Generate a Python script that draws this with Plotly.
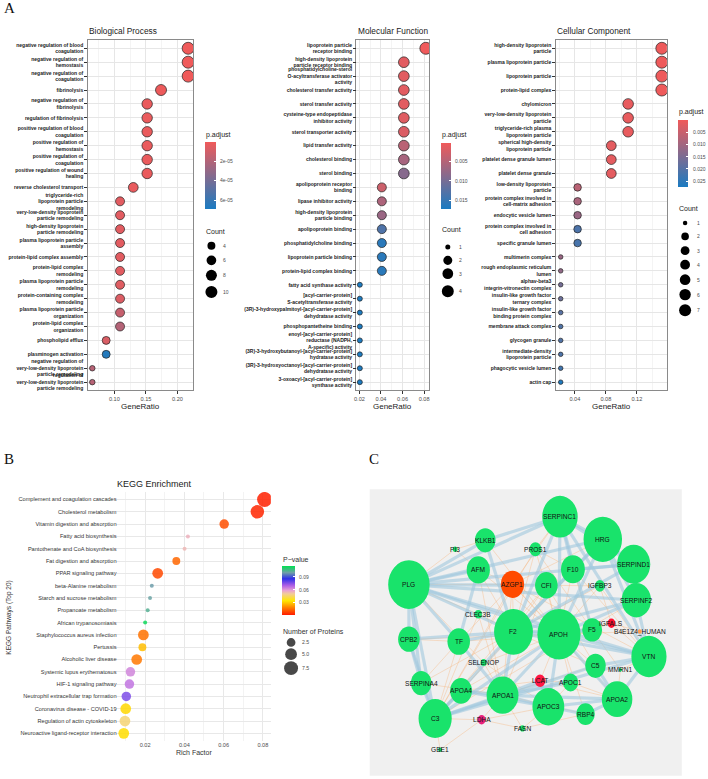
import plotly.graph_objects as go

W, H = 708, 779
SANS = "Liberation Sans, Arial, sans-serif"
SERIF = "Liberation Serif, Times New Roman, serif"

# ---------------- GO: Biological Process ----------------
bp_terms = [
    "negative regulation of blood<br>coagulation",
    "negative regulation of<br>hemostasis",
    "negative regulation of<br>coagulation",
    "fibrinolysis",
    "negative regulation of<br>fibrinolysis",
    "regulation of fibrinolysis",
    "positive regulation of blood<br>coagulation",
    "positive regulation of<br>hemostasis",
    "positive regulation of<br>coagulation",
    "positive regulation of wound<br>healing",
    "reverse cholesterol transport",
    "triglyceride-rich<br>lipoprotein particle<br>remodeling",
    "very-low-density lipoprotein<br>particle remodeling",
    "high-density lipoprotein<br>particle remodeling",
    "plasma lipoprotein particle<br>assembly",
    "protein-lipid complex assembly",
    "protein-lipid complex<br>remodeling",
    "plasma lipoprotein particle<br>remodeling",
    "protein-containing complex<br>remodeling",
    "plasma lipoprotein particle<br>organization",
    "protein-lipid complex<br>organization",
    "phospholipid efflux",
    "plasminogen activation",
    "negative regulation of<br>very-low-density lipoprotein<br>particle remodeling",
    "regulation of<br>very-low-density lipoprotein<br>particle remodeling",
]
bp_ratio = [0.217, 0.217, 0.217, 0.174, 0.152, 0.152, 0.152, 0.152, 0.152, 0.152,
            0.130, 0.109, 0.109, 0.109, 0.109, 0.109, 0.109, 0.109, 0.109, 0.109,
            0.109, 0.087, 0.087, 0.065, 0.065]
bp_count = [10, 10, 10, 8, 7, 7, 7, 7, 7, 7, 6, 5, 5, 5, 5, 5, 5, 5, 5, 5, 5, 4, 4, 3, 3]
bp_padj = [9e-7, 9e-7, 9e-7, 1.5e-6, 2.5e-6, 2.5e-6, 2.5e-6, 2.5e-6, 2.5e-6, 2.5e-6,
           3e-6, 5e-6, 5e-6, 5e-6, 5e-6, 5e-6, 5e-6, 6e-6, 7e-6, 1.4e-5,
           2.0e-5, 8e-6, 6.6e-5, 1.9e-5, 1.9e-5]

# ---------------- GO: Molecular Function ----------------
mf_terms = [
    "lipoprotein particle<br>receptor binding",
    "high-density lipoprotein<br>particle receptor binding",
    "phosphatidylcholine-sterol<br>O-acyltransferase activator<br>activity",
    "cholesterol transfer activity",
    "sterol transfer activity",
    "cysteine-type endopeptidase<br>inhibitor activity",
    "sterol transporter activity",
    "lipid transfer activity",
    "cholesterol binding",
    "sterol binding",
    "apolipoprotein receptor<br>binding",
    "lipase inhibitor activity",
    "high-density lipoprotein<br>particle binding",
    "apolipoprotein binding",
    "phosphatidylcholine binding",
    "lipoprotein particle binding",
    "protein-lipid complex binding",
    "fatty acid synthase activity",
    "[acyl-carrier-protein]<br>S-acetyltransferase activity",
    "(3R)-3-hydroxypalmitoyl-[acyl-carrier-protein]<br>dehydratase activity",
    "phosphopantetheine binding",
    "enoyl-[acyl-carrier-protein]<br>reductase (NADPH,<br>A-specific) activity",
    "(3R)-3-hydroxybutanoyl-[acyl-carrier-protein]<br>hydratase activity",
    "(3R)-3-hydroxyoctanoyl-[acyl-carrier-protein]<br>dehydratase activity",
    "3-oxoacyl-[acyl-carrier-protein]<br>synthase activity",
]
mf_ratio = [0.0816] + [0.0612] * 9 + [0.0408] * 7 + [0.0204] * 8
mf_count = [4] + [3] * 9 + [2] * 7 + [1] * 8
mf_padj = [0.0002, 0.0012, 0.0012, 0.0012, 0.0012, 0.0015, 0.0018, 0.0045, 0.006, 0.0085,
           0.003, 0.0055, 0.007, 0.013, 0.016, 0.016, 0.016,
           0.017, 0.017, 0.017, 0.017, 0.017, 0.017, 0.017, 0.017]

# ---------------- GO: Cellular Component ----------------
cc_terms = [
    "high-density lipoprotein<br>particle",
    "plasma lipoprotein particle",
    "lipoprotein particle",
    "protein-lipid complex",
    "chylomicron",
    "very-low-density lipoprotein<br>particle",
    "triglyceride-rich plasma<br>lipoprotein particle",
    "spherical high-density<br>lipoprotein particle",
    "platelet dense granule lumen",
    "platelet dense granule",
    "low-density lipoprotein<br>particle",
    "protein complex involved in<br>cell-matrix adhesion",
    "endocytic vesicle lumen",
    "protein complex involved in<br>cell adhesion",
    "specific granule lumen",
    "multimerin complex",
    "rough endoplasmic reticulum<br>lumen",
    "alphav-beta3<br>integrin-vitronectin complex",
    "insulin-like growth factor<br>ternary complex",
    "insulin-like growth factor<br>binding protein complex",
    "membrane attack complex",
    "glycogen granule",
    "intermediate-density<br>lipoprotein particle",
    "phagocytic vesicle lumen",
    "actin cap",
]
cc_ratio = [0.1522] * 4 + [0.1087] * 3 + [0.0870] * 3 + [0.0435] * 5 + [0.0217] * 10
cc_count = [7] * 4 + [5] * 3 + [4] * 3 + [2] * 5 + [1] * 10
cc_padj = [0.0003, 0.0003, 0.0003, 0.0003, 0.0010, 0.0010, 0.0010, 0.0015, 0.0015, 0.0015,
           0.0070, 0.0090, 0.0110, 0.0210, 0.0215, 0.0110, 0.0120, 0.0160, 0.0170, 0.0195,
           0.0205, 0.0205, 0.0210, 0.0225, 0.0268]

# ---------------- KEGG ----------------
kegg_terms = [
    "Complement and coagulation cascades", "Cholesterol metabolism",
    "Vitamin digestion and absorption", "Fatty acid biosynthesis",
    "Pantothenate and CoA biosynthesis", "Fat digestion and absorption",
    "PPAR signaling pathway", "beta-Alanine metabolism",
    "Starch and sucrose metabolism", "Propanoate metabolism",
    "African trypanosomiasis", "Staphylococcus aureus infection",
    "Pertussis", "Alcoholic liver disease", "Systemic lupus erythematosus",
    "HIF-1 signaling pathway", "Neutrophil extracellular trap formation",
    "Coronavirus disease - COVID-19", "Regulation of actin cytoskeleton",
    "Neuroactive ligand-receptor interaction",
]
kegg_rich = [0.0809, 0.0772, 0.0603, 0.0418, 0.0401, 0.0359, 0.0264, 0.0234, 0.0225, 0.0213,
             0.0200, 0.0191, 0.0186, 0.0157, 0.0125, 0.0120, 0.0104, 0.0101, 0.0097, 0.0091]
kegg_count = [9, 7, 3, 1, 1, 2, 4, 1, 1, 1, 1, 4, 2, 4, 3, 3, 3, 4, 4, 4]
kegg_pvalue = [0.001, 0.002, 0.009, 0.055, 0.054, 0.013, 0.008, 0.100, 0.101, 0.104,
               0.114, 0.015, 0.027, 0.016, 0.063, 0.066, 0.076, 0.031, 0.046, 0.032]

# ---------------- PPI network ----------------
net_nodes = ["SERPINC1", "HRG", "SERPIND1", "SERPINF2", "KLKB1", "PI3", "PROS1", "AFM",
             "AZGP1", "CFI", "F10", "IGFBP3", "PLG", "CLEC3B", "F2", "APOH", "F5",
             "IGFALS", "B4E1Z4_HUMAN", "CPB2", "TF", "VTN", "C5", "MMRN1", "SELENOP",
             "SERPINA4", "APOA4", "APOA1", "LCAT", "APOC1", "APOA2", "APOC3", "RBP4",
             "C3", "LDHA", "FASN", "GBE1"]
net_x = [598, 727, 820, 828, 373, 282, 524, 352, 455, 557, 637, 718, 143, 352, 458, 595, 695,
         753, 838, 143, 293, 866, 705, 780, 368, 180, 300, 425, 538, 630, 770, 563, 675,
         222, 362, 485, 237]
net_y = [112, 180, 255, 363, 183, 210, 210, 272, 315, 318, 270, 320, 316, 405, 458, 465, 452,
         432, 457, 480, 487, 532, 560, 572, 550, 612, 635, 648, 605, 610, 660, 683, 705,
         718, 722, 748, 812]
net_w = [107, 116, 100, 88, 62, 14, 36, 70, 70, 68, 72, 30, 125, 22, 117, 130, 60,
         24, 12, 65, 68, 106, 62, 10, 18, 62, 66, 96, 32, 46, 92, 96, 56,
         100, 24, 16, 12]
net_color = ["#19e36b"] * len(net_nodes)
net_color[net_nodes.index("AZGP1")] = "#ff4a00"
net_color[net_nodes.index("IGFALS")] = "#ff1030"
net_color[net_nodes.index("LCAT")] = "#ff1744"
net_color[net_nodes.index("LDHA")] = "#e8207a"
net_color[net_nodes.index("B4E1Z4_HUMAN")] = "#ff9a50"

blue_edges = [
    ("PLG", "SERPINC1"), ("PLG", "HRG"), ("PLG", "SERPINF2"), ("PLG", "APOH"), ("PLG", "F2"),
    ("PLG", "VTN"), ("PLG", "C3"), ("PLG", "CPB2"), ("PLG", "KLKB1"), ("PLG", "AFM"),
    ("PLG", "CFI"), ("PLG", "SERPIND1"), ("PLG", "SERPINA4"), ("PLG", "TF"),
    ("SERPINC1", "HRG"), ("SERPINC1", "F10"), ("SERPINC1", "F2"), ("SERPINC1", "APOH"),
    ("SERPINC1", "KLKB1"), ("SERPINC1", "SERPIND1"), ("SERPINC1", "F5"), ("SERPINC1", "VTN"),
    ("HRG", "SERPIND1"), ("HRG", "F2"), ("HRG", "APOH"), ("HRG", "VTN"), ("HRG", "SERPINF2"),
    ("HRG", "F10"), ("SERPIND1", "F10"), ("SERPIND1", "F2"), ("SERPIND1", "SERPINF2"),
    ("SERPINF2", "F2"), ("SERPINF2", "VTN"), ("SERPINF2", "APOH"),
    ("F2", "APOH"), ("F2", "F5"), ("F2", "F10"), ("F2", "VTN"), ("F2", "C3"), ("F2", "TF"),
    ("F2", "APOA1"), ("F2", "CPB2"), ("F2", "KLKB1"),
    ("APOH", "APOA1"), ("APOH", "APOC3"), ("APOH", "APOA2"), ("APOH", "VTN"), ("APOH", "C3"),
    ("APOH", "F5"), ("APOA1", "APOC3"), ("APOA1", "APOA2"), ("APOA1", "APOA4"), ("APOA1", "C3"),
    ("APOA1", "LCAT"), ("APOA1", "APOC1"), ("APOC3", "APOA2"), ("APOC3", "APOA4"),
    ("APOC3", "LCAT"), ("APOC3", "RBP4"), ("APOA2", "RBP4"), ("APOA2", "C5"), ("APOA2", "VTN"),
    ("C3", "C5"), ("C3", "CPB2"), ("C3", "APOA4"), ("C3", "SERPINA4"), ("C3", "VTN"),
    ("VTN", "C5"), ("CPB2", "SERPINA4"), ("TF", "APOA1"), ("AFM", "TF"),
]
orange_edges = [
    ("AZGP1", "PLG"), ("AZGP1", "F2"), ("AZGP1", "APOH"), ("AZGP1", "CFI"), ("AZGP1", "AFM"),
    ("AZGP1", "APOA1"), ("AZGP1", "C3"), ("AZGP1", "TF"), ("AZGP1", "VTN"), ("AZGP1", "HRG"),
    ("AZGP1", "SERPINC1"), ("AZGP1", "APOA2"), ("CLEC3B", "PLG"), ("CLEC3B", "F2"),
    ("CLEC3B", "APOA1"), ("CLEC3B", "C3"), ("SELENOP", "APOA1"), ("SELENOP", "PLG"),
    ("SELENOP", "APOH"), ("SELENOP", "C3"), ("SELENOP", "APOC3"), ("LCAT", "APOA2"),
    ("LCAT", "APOC1"), ("LCAT", "APOA4"), ("LCAT", "APOH"), ("LDHA", "C3"), ("LDHA", "APOA1"),
    ("LDHA", "FASN"), ("LDHA", "APOC3"), ("LDHA", "GBE1"), ("FASN", "APOC3"), ("FASN", "APOA1"),
    ("FASN", "RBP4"), ("GBE1", "C3"), ("PI3", "PLG"), ("PI3", "KLKB1"), ("PI3", "AFM"),
    ("PROS1", "F2"), ("PROS1", "SERPINC1"), ("PROS1", "APOH"), ("PROS1", "F10"), ("PROS1", "C3"),
    ("PROS1", "F5"), ("IGFBP3", "IGFALS"), ("IGFBP3", "APOH"), ("IGFBP3", "VTN"),
    ("IGFBP3", "F2"), ("IGFBP3", "CFI"), ("IGFALS", "VTN"), ("IGFALS", "APOH"), ("IGFALS", "F5"),
    ("IGFALS", "B4E1Z4_HUMAN"), ("B4E1Z4_HUMAN", "VTN"), ("B4E1Z4_HUMAN", "APOH"),
    ("MMRN1", "F5"), ("MMRN1", "VTN"), ("MMRN1", "APOA2"), ("CFI", "C3"), ("CFI", "C5"),
    ("CFI", "APOH"), ("CFI", "F2"), ("CFI", "APOA1"), ("C5", "F2"), ("C5", "APOH"),
    ("C5", "APOA1"), ("APOC1", "APOH"), ("APOC1", "APOA2"), ("APOC1", "APOC3"), ("RBP4", "APOH"),
    ("RBP4", "APOA1"), ("TF", "C3"), ("TF", "APOH"), ("TF", "SERPINA4"), ("APOA4", "APOH"),
    ("APOA4", "F2"), ("SERPINA4", "APOA1"), ("SERPINA4", "F2"), ("KLKB1", "APOH"),
    ("AFM", "APOH"), ("AFM", "F2"), ("AFM", "APOA1"), ("F10", "APOH"), ("F10", "F5"),
    ("F10", "VTN"), ("CPB2", "APOH"), ("CPB2", "TF"), ("SERPINF2", "C3"), ("HRG", "C3"),
]

# legend breaks
bp_breaks = [4, 6, 8, 10]
mf_breaks = [1, 2, 3, 4]
cc_breaks = [1, 2, 3, 4, 5, 6, 7]
kegg_breaks = [2.5, 5.0, 7.5]


def X(p):
    return p / W


def Y(p):
    return 1 - p / H


def dot_size(c, cmin, cmax, dmin, dmax):
    return dmin + (dmax - dmin) * ((c - cmin) / (cmax - cmin)) ** 0.5


GO_SCALE = [[0, "#1b7bc1"], [1, "#f05a5a"]]
KEGG_SCALE = [[0.0, "#ff1a00"], [0.15, "#ff8000"], [0.29, "#ffe800"], [0.43, "#f2cc98"],
              [0.50, "#e8a2d2"], [0.60, "#b060e6"], [0.74, "#3030e8"], [0.865, "#70a0a8"],
              [1.0, "#00e050"]]

fig = go.Figure()
annotations = []
shapes = []


def note(x, y, text, size=7, color="#1a1a1a", xanchor="left", **kw):
    annotations.append(dict(x=X(x), y=Y(y), xref="paper", yref="paper", text=text,
                            showarrow=False, xanchor=xanchor, yanchor="middle",
                            font=dict(family=SANS, size=size, color=color), **kw))


def colorbar_labels(x, top, bottom, lo, hi, ticks, labels, reverse):
    # tick labels of a colour bar, placed next to it like ggplot does
    for t, lab in zip(ticks, labels):
        f = (t - lo) / (hi - lo)
        yy = top + f * (bottom - top) if reverse else bottom - f * (bottom - top)
        note(x, yy, lab, size=5, color="#4d4d4d")


panels = [
    dict(terms=bp_terms, ratio=bp_ratio, count=bp_count, padj=bp_padj, ax="", ca="coloraxis",
         size=(3, 10, 5.5, 12), left=85, right=191, rng=[0.0576, 0.225], dtick=0.05,
         title="Biological Process", breaks=bp_breaks,
         cb=dict(x=202.5, w=10.5, top=142.3, bottom=209, lo=6e-7, hi=6.9e-5,
                 ticks=[2e-5, 4e-5, 6e-5], labels=["2e-05", "4e-05", "6e-05"]),
         leg=dict(title_y=231.7, cx=209.3, ys=[246, 260.7, 275.7, 292.3], lx=219)),
    dict(terms=mf_terms, ratio=mf_ratio, count=mf_count, padj=mf_padj, ax="2", ca="coloraxis2",
         size=(1, 4, 5, 12), left=355, right=428, rng=[0.0173, 0.0847], dtick=0.02,
         title="Molecular Function", breaks=mf_breaks,
         cb=dict(x=440, w=9.5, top=142.7, bottom=209, lo=0.0001, hi=0.0172,
                 ticks=[0.005, 0.010, 0.015], labels=["0.005", "0.010", "0.015"]),
         leg=dict(title_y=230, cx=446.7, ys=[247.3, 260.7, 274, 291.7], lx=456)),
    dict(terms=cc_terms, ratio=cc_ratio, count=cc_count, padj=cc_padj, ax="3", ca="coloraxis3",
         size=(1, 7, 4.5, 12), left=555, right=666.7, rng=[0.0152, 0.1587], dtick=0.04,
         title="Cellular Component", breaks=cc_breaks,
         cb=dict(x=678.3, w=10, top=120, bottom=187.3, lo=0.0, hi=0.0273,
                 ticks=[0.005, 0.010, 0.015, 0.020, 0.025],
                 labels=["0.005", "0.010", "0.015", "0.020", "0.025"]),
         leg=dict(title_y=208.3, cx=685, ys=[223.3, 236.7, 251, 265, 280, 295, 310.7], lx=695)),
]

layout_axes = {}
coloraxes = {}
for p in panels:
    cmin, cmax, dmin, dmax = p["size"]
    fig.add_trace(go.Scatter(
        x=p["ratio"], y=p["terms"], mode="markers", showlegend=False, hoverinfo="skip",
        xaxis="x" + p["ax"], yaxis="y" + p["ax"],
        marker=dict(size=[dot_size(c, cmin, cmax, dmin, dmax) for c in p["count"]],
                    color=[-v for v in p["padj"]], coloraxis=p["ca"],
                    line=dict(color="#222222", width=0.7), opacity=1),
    ))
    layout_axes["xaxis" + p["ax"]] = dict(
        domain=[X(p["left"]), X(p["right"])], range=p["rng"], anchor="y" + p["ax"],
        tick0=0, dtick=p["dtick"], tickformat=".2f",
        showgrid=True, gridcolor="#E6E6E6", gridwidth=0.6,
        minor=dict(tick0=0, dtick=p["dtick"] / 2, showgrid=True, gridcolor="#F4F4F4", gridwidth=0.5),
        showline=True, mirror=True, linecolor="#8a8a8a", linewidth=0.8,
        ticks="outside", ticklen=2.5, tickwidth=0.5, tickcolor="#333333",
        tickfont=dict(family=SANS, size=5.6, color="#4d4d4d"), zeroline=False,
    )
    layout_axes["yaxis" + p["ax"]] = dict(
        domain=[Y(391), Y(40)], anchor="x" + p["ax"], type="category",
        categoryorder="array", categoryarray=p["terms"], range=[24.6, -0.6],
        showgrid=True, gridcolor="#E6E6E6", gridwidth=0.6,
        showline=True, mirror=True, linecolor="#8a8a8a", linewidth=0.8,
        ticks="outside", ticklen=2.5, tickwidth=0.5, tickcolor="#333333",
        tickfont=dict(family=SANS, size=5, color="#1a1a1a", weight="bold"), zeroline=False,
    )
    cb = p["cb"]
    coloraxes[p["ca"]] = dict(
        cmin=-cb["hi"], cmax=-cb["lo"], colorscale=GO_SCALE,
        colorbar=dict(x=X(cb["x"]), xanchor="left", y=Y(cb["top"]), yanchor="top",
                      len=cb["bottom"] - cb["top"], lenmode="pixels",
                      thickness=cb["w"], thicknessmode="pixels", xpad=0, ypad=0, outlinewidth=0,
                      tickvals=[-t for t in cb["ticks"]], showticklabels=False,
                      ticks="inside", ticklen=2, tickcolor="white", title=dict(text="")),
    )
    colorbar_labels(cb["x"] + cb["w"] + 2.5, cb["top"], cb["bottom"], cb["lo"], cb["hi"],
                    cb["ticks"], cb["labels"], reverse=True)
    # titles
    note(p["left"] - 1, 31, p["title"], size=8.3, color="#1a1a1a")
    note((p["left"] + p["right"]) / 2, 406.7, "GeneRatio", size=8, xanchor="center")
    note(cb["x"] - 1, cb["top"] - 7.5, "p.adjust", size=7)
    lg = p["leg"]
    note(cb["x"] - 1, lg["title_y"], "Count", size=7)
    for b, yy in zip(p["breaks"], lg["ys"]):
        d = dot_size(b, cmin, cmax, dmin, dmax)
        shapes.append(dict(type="circle", xref="paper", yref="paper", xsizemode="pixel",
                           ysizemode="pixel", xanchor=X(lg["cx"]), yanchor=Y(yy),
                           x0=-d / 2, x1=d / 2, y0=-d / 2, y1=d / 2,
                           fillcolor="black", line=dict(width=0)))
        note(lg["lx"], yy, str(b), size=5, color="#4d4d4d")

# ---------------- KEGG dot plot ----------------
fig.add_trace(go.Scatter(
    x=kegg_rich, y=kegg_terms, mode="markers", showlegend=False, hoverinfo="skip",
    xaxis="x4", yaxis="y4",
    marker=dict(size=[dot_size(c, 1, 9, 4, 15) for c in kegg_count], color=kegg_pvalue,
                coloraxis="coloraxis4", opacity=0.85, line=dict(width=0)),
))
layout_axes["xaxis4"] = dict(
    domain=[X(113), X(269)], range=[0.0049, 0.0841], anchor="y4", tick0=0, dtick=0.02,
    tickformat=".2f", showgrid=True, gridcolor="#E8E8E8", gridwidth=0.6,
    minor=dict(tick0=0, dtick=0.01, showgrid=True, gridcolor="#F3F3F3", gridwidth=0.5),
    showline=False, ticks="", zeroline=False,
    tickfont=dict(family=SANS, size=5.6, color="#4d4d4d"),
)
layout_axes["yaxis4"] = dict(
    domain=[Y(741.7), Y(492.7)], anchor="x4", type="category", categoryorder="array",
    categoryarray=kegg_terms, range=[19.6, -0.6], showgrid=True, gridcolor="#E8E8E8",
    gridwidth=0.6, showline=False, ticks="", zeroline=False, ticklabelstandoff=-2,
    tickfont=dict(family=SANS, size=5.6, color="#333333"),
)
kcb = dict(x=280, w=12.5, top=566.7, bottom=616, lo=0.0, hi=0.116)
coloraxes["coloraxis4"] = dict(
    cmin=kcb["lo"], cmax=kcb["hi"], colorscale=KEGG_SCALE,
    colorbar=dict(x=X(kcb["x"]), xanchor="left", y=Y(kcb["top"]), yanchor="top",
                  len=kcb["bottom"] - kcb["top"], lenmode="pixels", thickness=kcb["w"],
                  thicknessmode="pixels", xpad=0, ypad=0, outlinewidth=0,
                  tickvals=[0.03, 0.06, 0.09], showticklabels=False,
                  ticks="inside", ticklen=2, tickcolor="white", title=dict(text="")),
)
colorbar_labels(kcb["x"] + kcb["w"] + 3, kcb["top"], kcb["bottom"], kcb["lo"], kcb["hi"],
                [0.03, 0.06, 0.09], ["0.03", "0.06", "0.09"], reverse=False)
note(151.7, 485, "KEGG Enrichment", size=9, xanchor="center")
note(191.7, 753.3, "Rich Factor", size=7, xanchor="center", color="#333333")
annotations.append(dict(x=X(6.5), y=Y(618), xref="paper", yref="paper",
                        text="KEGG Pathways (Top 20)", showarrow=False, textangle=-90,
                        xanchor="center", yanchor="middle",
                        font=dict(family=SANS, size=6.5, color="#333333")))
note(279, 560.7, "P\u2212value", size=7, color="#333333")
note(279, 632.7, "Number of Proteins", size=7, color="#333333")
for b, yy in zip(kegg_breaks, [643.3, 655, 669]):
    d = dot_size(b, 1, 9, 4, 15)
    shapes.append(dict(type="circle", xref="paper", yref="paper", xsizemode="pixel",
                       ysizemode="pixel", xanchor=X(289.3), yanchor=Y(yy),
                       x0=-d / 2, x1=d / 2, y0=-d / 2, y1=d / 2,
                       fillcolor="rgba(40,40,40,0.85)", line=dict(width=0)))
    note(298.7, yy, "%.1f" % b, size=5.2, color="#4d4d4d")

# ---------------- PPI network ----------------
shapes.append(dict(type="rect", xref="x5 domain", yref="y5 domain", x0=0, x1=1, y0=0, y1=1,
                   fillcolor="#f0f0f0", line=dict(width=0), layer="below"))
pos = {n: (x, y) for n, x, y in zip(net_nodes, net_x, net_y)}


def edge_xy(edges):
    xs, ys = [], []
    for a, b in edges:
        xs += [pos[a][0], pos[b][0], None]
        ys += [pos[a][1], pos[b][1], None]
    return xs, ys


ex, ey = edge_xy(orange_edges)
fig.add_trace(go.Scatter(x=ex, y=ey, mode="lines", xaxis="x5", yaxis="y5", showlegend=False,
                         hoverinfo="skip", line=dict(color="rgba(246,180,120,0.55)", width=0.7)))
ex, ey = edge_xy(blue_edges)
fig.add_trace(go.Scatter(x=ex, y=ey, mode="lines", xaxis="x5", yaxis="y5", showlegend=False,
                         hoverinfo="skip", line=dict(color="rgba(160,200,222,0.6)", width=3.2)))
for n, x, y, w, c in zip(net_nodes, net_x, net_y, net_w, net_color):
    h = w * 1.17
    shapes.append(dict(type="circle", xref="x5", yref="y5", x0=x - w / 2, x1=x + w / 2,
                       y0=y - h / 2, y1=y + h / 2, fillcolor=c, line=dict(width=0),
                       layer="above"))
    annotations.append(dict(x=x, y=y, xref="x5", yref="y5", text=n, showarrow=False,
                            font=dict(family=SANS, size=6.6, color="#111111")))
layout_axes["xaxis5"] = dict(domain=[X(368.3), X(681.7)], range=[25, 965], anchor="y5",
                             visible=False)
layout_axes["yaxis5"] = dict(domain=[Y(776.7), Y(490)], range=[890, 30], anchor="x5",
                             visible=False)

# panel letters
for letter, x, y in [("A", 7, 8), ("B", 6, 460), ("C", 373, 460)]:
    annotations.append(dict(x=X(x), y=Y(y), xref="paper", yref="paper", text=letter,
                            showarrow=False, xanchor="center", yanchor="middle",
                            font=dict(family=SERIF, size=15, color="#111111")))

fig.update_layout(
    width=W, height=H, margin=dict(l=0, r=0, t=0, b=0),
    paper_bgcolor="white", plot_bgcolor="rgba(0,0,0,0)",
    font=dict(family=SANS), annotations=annotations, shapes=shapes,
    **layout_axes, **coloraxes,
)
# the page body has an 8px default margin; drop it so the figure fills the window
fig.write_html("out.html", config={"displayModeBar": False},
               post_script="document.body.style.margin='0';")
